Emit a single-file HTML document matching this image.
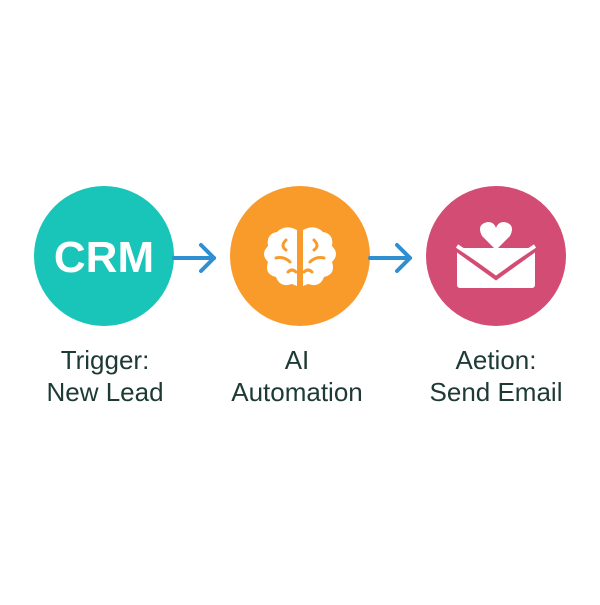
<!DOCTYPE html>
<html><head><style>
body{margin:0;width:600px;height:600px;background:#fff;overflow:hidden}
</style></head><body>
<svg width="600" height="600" viewBox="0 0 600 600" xmlns="http://www.w3.org/2000/svg">
<circle cx="104" cy="256" r="70" fill="#19c4b9"/>
<circle cx="300" cy="256" r="70" fill="#f99b2b"/>
<circle cx="496" cy="256" r="70" fill="#d34c74"/>
<text x="104" y="272" text-anchor="middle" font-family="Liberation Sans, sans-serif" font-weight="bold" font-size="44" fill="#fff">CRM</text>
<g stroke="#2e8fd1" stroke-width="4" fill="none" stroke-linecap="round" stroke-linejoin="round">
<line x1="174" y1="258" x2="214" y2="258"/><polyline points="201,245 214,258 201,271"/>
<line x1="370" y1="258" x2="410" y2="258"/><polyline points="397,245 410,258 397,271"/>
</g>
<!-- brain -->
<g fill="#fff">
<path d="M297 230 Q285 224 277 232 Q266 234 268 246 Q260 254 268 262 Q264 274 276 277 Q280 288 292 284 L297 286 Z"/>
<path d="M303 230 Q315 224 323 232 Q334 234 332 246 Q340 254 332 262 Q336 274 324 277 Q320 288 308 284 L303 286 Z"/>
</g>
<g stroke="#f99b2b" stroke-width="3" fill="none" stroke-linecap="round">
<path d="M286 240 Q280 246 286 250"/><path d="M276 258 Q284 256 290 262"/><path d="M314 240 Q320 246 314 250"/><path d="M324 258 Q316 256 310 262"/><path d="M288 272 Q292 268 296 272"/><path d="M312 272 Q308 268 304 272"/>
</g>
<!-- envelope -->
<rect x="457" y="248" width="78" height="40" rx="3" fill="#fff"/>
<path d="M457 250 L496 278 L535 250" stroke="#d34c74" stroke-width="4" fill="none"/>
<path d="M457 246 L496 272 L535 246" stroke="#fff" stroke-width="4" fill="none"/>
<path d="M496 250 L482 236 Q476 224 488 222 Q494 222 496 228 Q498 222 504 222 Q516 224 510 236 Z" fill="#fff"/>
<g font-family="Liberation Sans, sans-serif" font-size="26" fill="#1e3a34" text-anchor="middle">
<text x="105" y="369">Trigger:</text><text x="105" y="401">New Lead</text>
<text x="297" y="369">AI</text><text x="297" y="401">Automation</text>
<text x="496" y="369">Aetion:</text><text x="496" y="401">Send Email</text>
</g>
</svg>
</body></html>
